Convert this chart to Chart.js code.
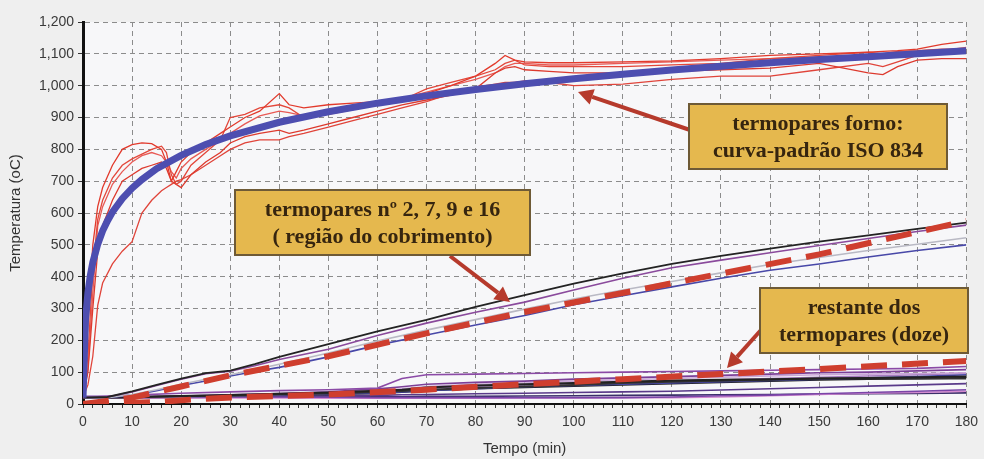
<!DOCTYPE html>
<html lang="pt">
<head>
<meta charset="UTF-8">
<title>Temperatura x Tempo</title>
<script src="https://cdn.jsdelivr.net/npm/chart.js@4.4.0/dist/chart.umd.min.js"></script>
<style>
    html, body { margin: 0; padding: 0; background: #efefef; }
</style>
</head>
<body>
<canvas id="grafico" width="984" height="459"></canvas>

<script>
    // curva-padrão ISO 834 (linha azul grossa)
    var tempoIso = [0,0.5,1,1.5,2,3,4,5,6,8,10,12,15,20,25,30,40,50,60,70,80,90,100,110,120,130,140,150,160,170,180];
    var tempIso  = [20,261,349,404,445,502,544,576,603,645,678,705,739,781,815,842,885,918,945,968,988,1006,1022,1036,1049,1061,1072,1082,1091,1100,1110];

    // termopares do forno (linhas vermelhas finas)
    var tempoForno = [0,1,2,3,4,6,8,10,12,14,16,17,18,19,20,22,25,28,30,33,36,40,42,45,50,55,60,65,70,75,80,84,86,88,90,95,100,110,120,130,140,150,160,163,166,170,175,180];
    var forno1 = [20,250,500,620,680,750,800,815,820,818,800,760,700,730,760,790,820,850,870,900,920,975,940,930,940,945,950,960,975,1000,1030,1070,1095,1080,1075,1072,1072,1075,1078,1085,1095,1100,1105,1108,1110,1115,1130,1140];
    var forno2 = [20,150,420,580,640,710,750,770,785,800,810,790,720,690,700,750,790,830,900,910,930,940,930,900,920,935,945,955,990,1010,1030,1050,1070,1080,1065,1060,1060,1060,1065,1070,1085,1095,1105,1100,1108,1110,1115,1115];
    var forno3 = [20,100,300,480,560,640,700,720,740,750,760,740,700,690,680,720,760,790,820,840,850,860,850,860,880,900,920,940,955,970,990,1040,1055,1060,1050,1045,1040,1040,1045,1050,1055,1070,1040,1035,1060,1080,1085,1085];
    var forno4 = [20,60,150,310,380,440,480,510,600,640,670,680,690,700,705,720,750,780,800,820,830,830,840,850,870,890,910,930,950,975,995,1005,1010,1010,1015,1010,1000,1005,1020,1030,1030,1050,1070,1060,1075,1095,1100,1105];
    var forno5 = [20,110,350,560,620,690,730,760,780,790,780,760,730,710,740,770,800,830,850,880,905,920,915,905,910,925,940,960,980,1000,1020,1040,1060,1070,1070,1065,1065,1070,1075,1080,1085,1090,1095,1090,1095,1100,1110,1120];

    // termopares nº 2, 7, 9 e 16 (região do cobrimento)
    var tempoCob = [0,5,10,15,20,25,30,35,40,50,60,70,80,90,100,110,120,130,140,150,160,170,180];
    var cobPreto = [20,22,40,60,80,97,105,125,148,188,228,264,305,342,378,410,440,465,488,510,530,550,570];
    var cobRoxo  = [20,22,38,58,78,95,103,120,140,172,215,254,288,320,358,395,428,452,475,498,520,542,562];
    var cobCinza = [20,20,30,45,62,78,92,108,125,160,198,232,265,298,330,358,385,412,438,460,482,502,522];
    var cobAzul  = [20,20,28,42,58,72,88,102,115,148,185,217,248,278,312,340,368,395,420,440,462,482,500];

    // linhas tracejadas vermelhas
    var tempoTrac1 = [0,10,20,30,50,70,90,115,150,180];
    var tracCob    = [0,20,55,90,150,222,289,364,470,575];
    var tempoTrac2 = [0,15,24,33,50,70,90,110,130,150,180];
    var tracRest   = [0,6,16,22,30,45,62,78,94,110,135];

    // restante dos termopares (doze)
    var tempoRest = [0,10,20,30,40,50,60,62,65,70,80,90,100,110,120,130,140,150,160,170,180];
    var rest1  = [20,28,34,38,42,45,50,62,80,92,94,96,98,100,102,104,106,108,110,112,118];
    var rest2  = [20,22,25,28,32,36,42,43,45,52,58,62,66,70,74,76,78,80,82,84,86];
    var rest3  = [20,21,24,26,30,33,38,39,41,45,50,55,60,66,70,73,76,80,80,80,80];
    var rest4  = [20,22,25,29,33,38,48,50,54,62,68,72,78,82,86,90,94,98,100,104,108];
    var rest5  = [20,21,23,26,30,34,42,44,48,55,62,66,72,76,80,84,88,92,94,96,98];
    var rest6  = [20,21,23,25,28,31,35,36,38,42,48,54,58,62,66,70,74,78,82,86,92];
    var rest7  = [24,24,23,22,22,21,20,20,20,20,20,20,20,20,22,26,28,32,36,40,45];
    var rest8  = [20,20,19,19,19,18,18,18,18,18,18,19,19,20,20,22,26,30,34,36,40];
    var rest9  = [20,20,20,21,22,22,23,23,23,24,24,25,26,27,28,29,30,31,32,33,35];
    var rest10 = [20,20,22,24,27,30,34,35,37,42,48,52,56,60,64,68,72,76,78,80,82];
    var rest11 = [20,21,24,27,31,35,40,41,43,50,56,60,64,68,72,76,80,84,88,92,96];
    var rest12 = [20,20,21,22,24,26,28,28,29,30,32,34,36,38,40,44,48,52,56,60,64];

    function serie(tempos, valores) {
        return tempos.map(function (t, i) { return {x: t, y: valores[i]}; });
    }

    function linha(tempos, valores, cor, largura) {
        return {
            data: serie(tempos, valores),
            borderColor: cor,
            borderWidth: largura,
            pointRadius: 0,
            fill: false,
            tension: 0
        };
    }

    // o primeiro dataset fica por cima
    var datasets = [];
    datasets.push(linha(tempoIso, tempIso, '#4d4eb0', 7));

    var tc = linha(tempoTrac1, tracCob, '#cf3e2e', 6);
    tc.borderDash = [26, 15];
    datasets.push(tc);
    var tr = linha(tempoTrac2, tracRest, '#cf3e2e', 6);
    tr.borderDash = [26, 15];
    datasets.push(tr);

    datasets.push(linha(tempoForno, forno1, '#e23a2c', 1.3));
    datasets.push(linha(tempoForno, forno2, '#e3473a', 1.3));
    datasets.push(linha(tempoForno, forno3, '#dd3a2e', 1.3));
    datasets.push(linha(tempoForno, forno4, '#e0443a', 1.3));
    datasets.push(linha(tempoForno, forno5, '#e85a55', 1.3));

    datasets.push(linha(tempoCob, cobPreto, '#232323', 1.8));
    datasets.push(linha(tempoCob, cobRoxo, '#8a4a9c', 1.6));
    datasets.push(linha(tempoCob, cobCinza, '#b9b9c4', 1.6));
    datasets.push(linha(tempoCob, cobAzul, '#4848a8', 1.6));

    datasets.push(linha(tempoRest, rest1, '#8b4aa6', 1.6));
    datasets.push(linha(tempoRest, rest2, '#222222', 2));
    datasets.push(linha(tempoRest, rest3, '#333333', 2));
    datasets.push(linha(tempoRest, rest4, '#7b3f98', 1.6));
    datasets.push(linha(tempoRest, rest5, '#c9a6d8', 1.6));
    datasets.push(linha(tempoRest, rest6, '#4848a8', 1.6));
    datasets.push(linha(tempoRest, rest7, '#7a45a8', 1.6));
    datasets.push(linha(tempoRest, rest8, '#d48ad0', 1.6));
    datasets.push(linha(tempoRest, rest9, '#3a2f6a', 1.6));
    datasets.push(linha(tempoRest, rest10, '#1e1e1e', 1.8));
    datasets.push(linha(tempoRest, rest11, '#a77cc0', 1.6));
    datasets.push(linha(tempoRest, rest12, '#5a3a8a', 1.6));

    // caixas de texto e setas
    var notas = [
        {x: 689, y: 104, w: 258, h: 65, linhas: ['termopares forno:', 'curva-padrão ISO 834']},
        {x: 235, y: 190, w: 295, h: 65, linhas: ['termopares nº 2, 7, 9 e 16', '( região do cobrimento)']},
        {x: 760, y: 288, w: 208, h: 65, linhas: ['restante dos', 'termopares (doze)']}
    ];
    var setas = [
        {x1: 690, y1: 130, x2: 578, y2: 92},
        {x1: 450, y1: 256, x2: 510, y2: 302},
        {x1: 761, y1: 330, x2: 727, y2: 368}
    ];

    var fundo = {
        id: 'fundo',
        beforeDraw: function (chart) {
            var c = chart.ctx, a = chart.chartArea;
            c.save();
            c.fillStyle = '#efefef';
            c.fillRect(0, 0, chart.width, chart.height);
            c.fillStyle = '#f7f7f9';
            c.fillRect(a.left, a.top, a.right - a.left, a.bottom - a.top);
            c.restore();
        }
    };

    var anotacoes = {
        id: 'anotacoes',
        afterDraw: function (chart) {
            var c = chart.ctx;
            c.save();
            setas.forEach(function (s) {
                var ang = Math.atan2(s.y2 - s.y1, s.x2 - s.x1);
                var bx = s.x2 - 15 * Math.cos(ang), by = s.y2 - 15 * Math.sin(ang);
                c.strokeStyle = '#b63a2c';
                c.lineWidth = 4;
                c.beginPath();
                c.moveTo(s.x1, s.y1);
                c.lineTo(bx, by);
                c.stroke();
                c.fillStyle = '#b63a2c';
                c.beginPath();
                c.moveTo(s.x2, s.y2);
                c.lineTo(bx + 8 * Math.sin(ang), by - 8 * Math.cos(ang));
                c.lineTo(bx - 8 * Math.sin(ang), by + 8 * Math.cos(ang));
                c.closePath();
                c.fill();
            });
            notas.forEach(function (n) {
                c.fillStyle = '#e5b84e';
                c.fillRect(n.x, n.y, n.w, n.h);
                c.strokeStyle = '#6e5a36';
                c.lineWidth = 2;
                c.strokeRect(n.x, n.y, n.w, n.h);
                c.fillStyle = '#36250f';
                c.font = 'bold 22px "Liberation Serif", serif';
                c.textAlign = 'center';
                c.textBaseline = 'middle';
                c.fillText(n.linhas[0], n.x + n.w / 2, n.y + 20);
                c.fillText(n.linhas[1], n.x + n.w / 2, n.y + 47);
            });
            c.restore();
        }
    };

    var fonteEixo = {family: '"Liberation Sans", Arial, sans-serif', size: 14};
    var fonteTitulo = {family: '"Liberation Sans", Arial, sans-serif', size: 15};

    var ctx = document.getElementById('grafico');
    var grafico = new Chart(ctx, {
        type: 'line',
        data: {datasets: datasets},
        plugins: [fundo, anotacoes],
        options: {
            responsive: false,
            animation: false,
            layout: {padding: {top: 22, right: 10, left: 0, bottom: 0}},
            plugins: {
                legend: {display: false},
                tooltip: {enabled: false}
            },
            scales: {
                x: {
                    type: 'linear',
                    min: 0,
                    max: 180,
                    afterFit: function (s) { s.height = 55; },
                    ticks: {
                        stepSize: 2,
                        autoSkip: false,
                        maxRotation: 0,
                        color: '#3a3a3a',
                        font: fonteEixo,
                        padding: 6,
                        callback: function (v) { return v % 10 === 0 ? v : ''; }
                    },
                    grid: {
                        color: function (c) {
                            return c.tick && c.tick.value % 10 === 0 ? '#8c8c8c' : 'rgba(0,0,0,0)';
                        },
                        tickColor: '#333',
                        tickLength: 4
                    },
                    border: {display: true, color: '#111', width: 2, dash: [5, 4]},
                    title: {
                        display: true,
                        text: 'Tempo (min)',
                        color: '#333',
                        font: fonteTitulo,
                        padding: {top: 0, bottom: 1}
                    }
                },
                y: {
                    min: 0,
                    max: 1200,
                    afterFit: function (s) { s.width = 83; },
                    ticks: {
                        stepSize: 100,
                        color: '#3a3a3a',
                        font: fonteEixo,
                        padding: 4
                    },
                    grid: {
                        color: '#8c8c8c',
                        tickColor: '#333',
                        tickLength: 5
                    },
                    border: {display: true, color: '#111', width: 3, dash: [5, 4]},
                    title: {
                        display: true,
                        text: 'Temperatura (oC)',
                        color: '#333',
                        font: fonteTitulo,
                        padding: {top: 7, bottom: 0}
                    }
                }
            }
        }
    });
</script>
</body>
</html>
